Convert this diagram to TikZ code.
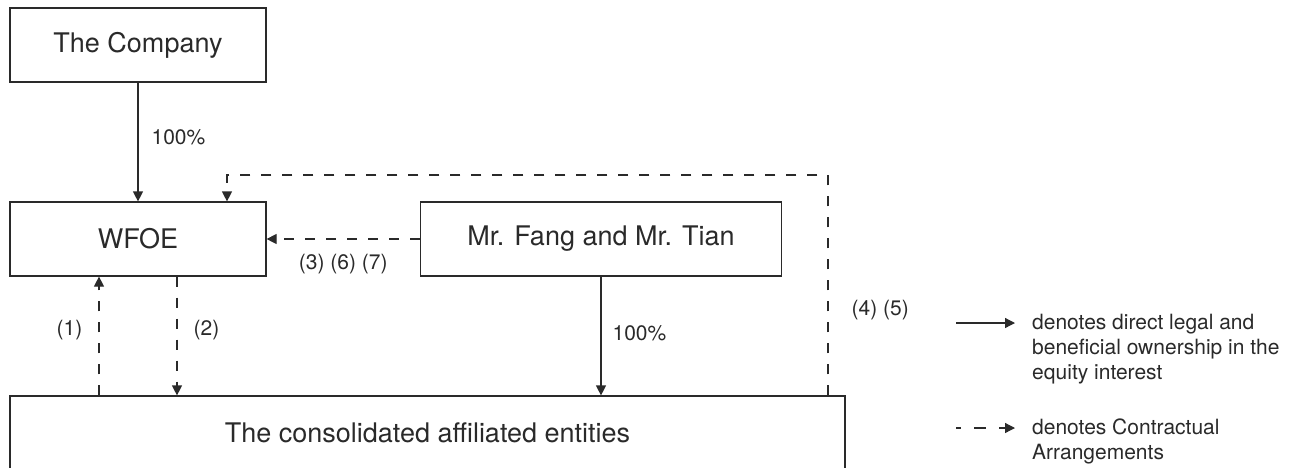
\documentclass[tikz,border=0pt]{standalone}
\usepackage{fontspec}
\setmainfont{TeX Gyre Heros}
\usetikzlibrary{arrows.meta,calc}
\definecolor{ink}{HTML}{2A2A2A}
\begin{document}
\begin{tikzpicture}[x=1pt,y=-1pt,
  box/.style={draw=ink,line width=1.2pt,rectangle,minimum height=74pt,inner sep=0pt,
    font=\fontsize{27}{32}\selectfont,text=ink},
  lbl/.style={inner sep=0pt,font=\fontsize{21}{25}\selectfont,text=ink},
  arr/.style={draw=ink,line width=1.2pt,-{Triangle[length=10pt,width=10pt]}},
  darr/.style={arr,dash pattern=on 10pt off 11pt}]
\useasboundingbox (0,0) rectangle (1298,467);
% boxes
\node[box,minimum width=256pt] (comp) at (138,45) {The Company};
\node[box,minimum width=256pt] (wfoe) at (138,239) {WFOE};
\node[box,minimum width=361pt] (fang) at (601,239) {Mr. Fang and Mr. Tian};
\node[box,minimum width=835pt] (bot) at (427.5,433) {The consolidated affiliated entities};
% helper coordinates
\coordinate (x1) at (99,0);
\coordinate (x2) at (177,0);
\coordinate (xt) at (227,175);
\coordinate (xr) at (828,175);
% solid ownership
\draw[arr] (comp.south) -- node[lbl,anchor=west,xshift=13pt,yshift=5pt] {100\%} (wfoe.north);
\draw[arr] (fang.south) -- node[lbl,anchor=west,xshift=11pt,yshift=3pt] {100\%} (bot.north -| fang.south);
% contractual
\draw[darr] (fang.west) -- node[lbl,pos=0.5,anchor=north,yshift=-15pt] {(3) (6) (7)} (wfoe.east);
\draw[darr] (bot.north -| x1) -- node[lbl,anchor=east,xshift=-16pt,pos=0.55] {(1)} (wfoe.south -| x1);
\draw[darr] (wfoe.south -| x2) -- node[lbl,anchor=west,xshift=16pt,pos=0.45] {(2)} (bot.north -| x2);
\draw[darr] (bot.north -| xr) -- node[lbl,anchor=west,xshift=23pt,pos=0.385] {(4) (5)} (xr) -- (xt) -- (wfoe.north -| xt);
% legend
\coordinate (la) at (956,323);
\coordinate (lb) at (1015,323);
\coordinate (lc) at (956,428);
\coordinate (ld) at (1015,428);
\draw[arr] (la) -- (lb);
\draw[arr,dash pattern=on 5pt off 13pt on 12pt off 13pt on 6pt off 0pt] (lc) -- (ld);
\node[lbl,anchor=north west,align=left] (t1) at (1032,313.5) {denotes direct legal and\\beneficial ownership in the\\equity interest};
\node[lbl,anchor=north west,align=left] (t2) at (1032,418.5) {denotes Contractual\\Arrangements};
\end{tikzpicture}
\end{document}
